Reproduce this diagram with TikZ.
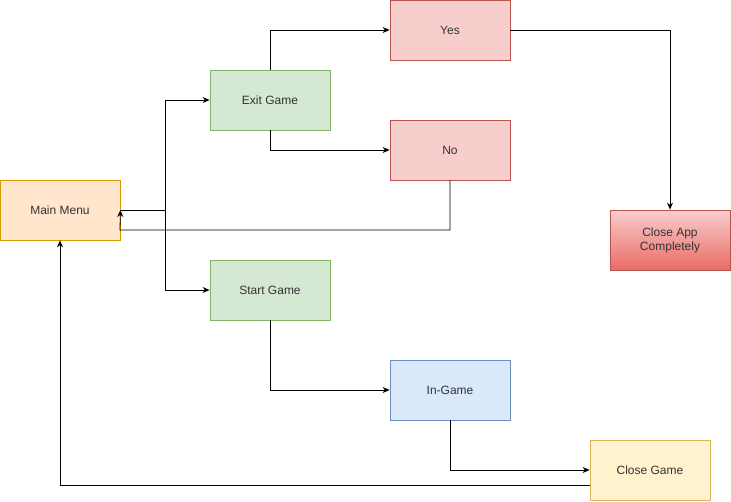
\documentclass[tikz,border=0pt]{standalone}
\usepackage{fontspec}
\setmainfont{Liberation Sans}
\usetikzlibrary{arrows.meta}
\definecolor{txt}{HTML}{333333}
\definecolor{orfill}{HTML}{FFE6CC}\definecolor{orline}{HTML}{D79B00}
\definecolor{grfill}{HTML}{D5E8D4}\definecolor{grline}{HTML}{82B366}
\definecolor{rdfill}{HTML}{F8CECC}\definecolor{rdline}{HTML}{B85450}
\definecolor{rddeep}{HTML}{EA6B66}
\definecolor{blfill}{HTML}{DAE8FC}\definecolor{blline}{HTML}{6C8EBF}
\definecolor{ylfill}{HTML}{FFF2CC}\definecolor{ylline}{HTML}{D6B656}
\tikzset{
  box/.style={rectangle, minimum width=120pt, minimum height=60pt, inner sep=0pt,
    line width=0.8pt, text=txt, font=\fontsize{12}{14}\selectfont, align=center},
  orbox/.style={box, fill=orfill, draw=orline},
  grbox/.style={box, fill=grfill, draw=grline},
  rdbox/.style={box, fill=rdfill, draw=rdline},
  gradbox/.style={box, top color=rdfill, bottom color=rddeep, draw=rdline},
  blbox/.style={box, fill=blfill, draw=blline},
  ylbox/.style={box, fill=ylfill, draw=ylline},
  link/.style={line width=0.8pt, -{Stealth[length=7pt,width=6pt]}},
}
\begin{document}
\begin{tikzpicture}[x=1pt,y=-1pt]
\useasboundingbox (0,0) rectangle (731,501);
\node[orbox] (menu) at (60,210) {Main Menu};
\node[grbox] (exit) at (270,100) {Exit Game};
\node[grbox] (start) at (270,290) {Start Game};
\node[rdbox] (yes) at (450,30) {Yes};
\node[rdbox] (no) at (450,150) {No};
\node[gradbox] (close) at (670,240) {Close App\\Completely};
\node[blbox] (ingame) at (450,390) {In-Game};
\node[ylbox] (closegame) at (650,470) {Close Game};

\coordinate (split) at (165,210);
\coordinate (noturn) at (120,230);
\coordinate (backturn) at (60,485);

\draw[link] (menu.east) -- (split) |- (exit.west);
\draw[link] (menu.east) -- (split) |- (start.west);
\draw[link] (exit.north) |- (yes.west);
\draw[link] (exit.south) |- (no.west);
\draw[link] (yes.east) -| (close.north);
\draw[link] (no.south) |- (noturn) -- (menu.east);
\draw[link] (start.south) |- (ingame.west);
\draw[link] (ingame.south) |- (closegame.west);
\draw[link] (closegame.west |- backturn) -- (backturn) -- (menu.south);
\end{tikzpicture}
\end{document}
